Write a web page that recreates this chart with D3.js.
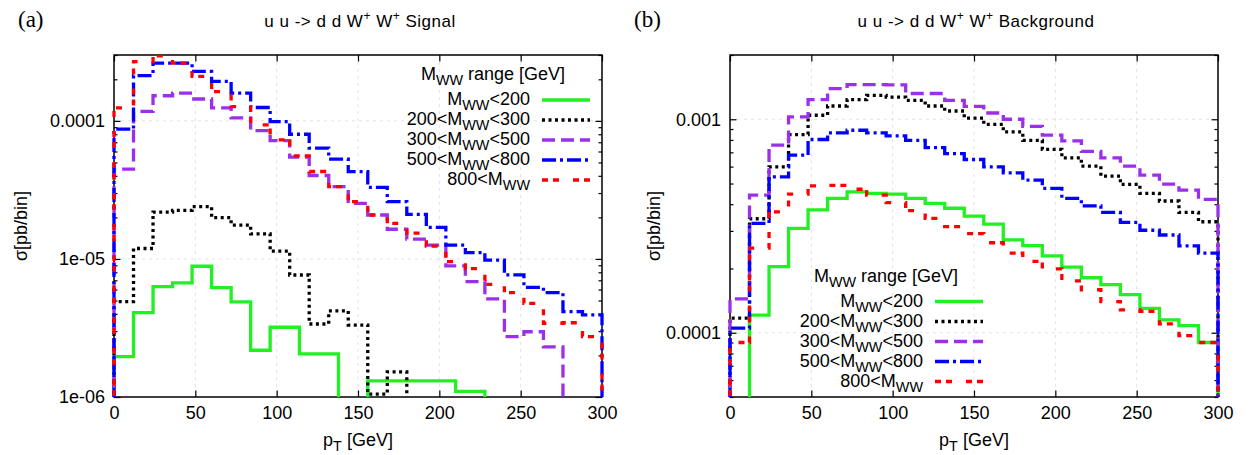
<!DOCTYPE html>
<html>
<head>
<meta charset="utf-8">
<script src="https://cdn.jsdelivr.net/npm/d3@7"></script>
<style>
  body { margin: 0; background: #fff; }
  svg { display: block; }
  text { font-family: "Liberation Sans", Arial, sans-serif; fill: #000; }
  text.tag { font-family: "Liberation Serif", "Times New Roman", serif; }
</style>
</head>
<body>
<svg id="fig" width="1250" height="455"></svg>
<script>
// Histogram bin centres (GeV), 12 GeV wide bins
const ptBins = [6, 18, 30, 42, 54, 66, 78, 90, 102, 114, 126, 138, 150, 162, 174, 186, 198, 210, 222, 234, 246, 258, 270, 282, 294];
const binWidth = 12;
const ptTicks = [0, 50, 100, 150, 200, 250, 300];

// Signal: sigma per bin [pb] for each M_WW window (null = empty bin)
const sigM200      = [1.96e-6, 4.08e-6, 6.3e-6, 6.7e-6, 8.85e-6, 6.2e-6, 4.88e-6, 2.18e-6, 3.2e-6, null, 2.05e-6, null, 6.5e-7, 1.31e-6, 1.31e-6, 1.31e-6, 1.31e-6, null, 1.1e-6, null, null, null, null, null, null];
const sigM200to300 = [4.9e-6, 1.19e-5, 2.18e-5, 2.25e-5, 2.39e-5, 1.99e-5, 1.76e-5, 1.52e-5, 1.14e-5, 7.65e-6, 3.38e-6, 4.2e-6, 3.32e-6, 1.05e-6, 1.52e-6, null, null, null, null, null, null, null, null, null, null];
const sigM300to500 = [4.47e-5, 1.17e-4, 1.52e-4, 1.59e-4, 1.44e-4, 1.24e-4, 1.05e-4, 8.5e-5, 7.2e-5, 5.46e-5, 4.02e-5, 3.34e-5, 2.53e-5, 2.08e-5, 1.64e-5, 1.39e-5, 1.26e-5, 8.9e-6, 6.85e-6, 5.13e-6, 2.74e-6, 2.97e-6, 2.31e-6, null, null];
const sigM500to800 = [8.7e-5, 2.13e-4, 2.62e-4, 2.62e-4, 2.28e-4, 1.93e-4, 1.59e-4, 1.25e-4, 9.89e-5, 8.0e-5, 6.34e-5, 5.28e-5, 4.29e-5, 3.3e-5, 2.6e-5, 2.1e-5, 1.69e-5, 1.26e-5, 1.11e-5, 9.8e-6, 7.66e-6, 6.23e-6, 5.7e-6, 4.15e-6, 3.93e-6];
const sigM800      = [1.24e-4, 2.69e-4, 2.96e-4, 2.62e-4, 2.1e-4, 1.63e-4, 1.27e-4, 9.35e-5, 7.28e-5, 5.58e-5, 4.3e-5, 3.34e-5, 2.6e-5, 2.08e-5, 1.81e-5, 1.54e-5, 1.24e-5, 9.56e-6, 8.5e-6, 6.55e-6, 5.7e-6, 4.77e-6, 3.42e-6, 3.45e-6, 2.74e-6];

// Background: sigma per bin [pb]
const bkgM200      = [null, 1.21e-4, 2.04e-4, 3.08e-4, 3.76e-4, 4.26e-4, 4.57e-4, 4.5e-4, 4.46e-4, 4.26e-4, 4.04e-4, 3.83e-4, 3.52e-4, 3.23e-4, 2.72e-4, 2.56e-4, 2.29e-4, 2.03e-4, 1.81e-4, 1.68e-4, 1.51e-4, 1.3e-4, 1.15e-4, 1.08e-4, 9.0e-5];
const bkgM200to300 = [1.17e-4, 3.42e-4, 5.99e-4, 8.48e-4, 1.044e-3, 1.154e-3, 1.236e-3, 1.295e-3, 1.271e-3, 1.227e-3, 1.154e-3, 1.093e-3, 1.013e-3, 9.47e-4, 8.72e-4, 7.97e-4, 7.22e-4, 6.6e-4, 6.03e-4, 5.42e-4, 4.95e-4, 4.5e-4, 4.14e-4, 3.66e-4, 3.31e-4];
const bkgM300to500 = [1.44e-4, 4.41e-4, 7.56e-4, 1.025e-3, 1.236e-3, 1.391e-3, 1.453e-3, 1.453e-3, 1.45e-3, 1.32e-3, 1.32e-3, 1.227e-3, 1.15e-3, 1.07e-3, 1.0e-3, 9.27e-4, 8.42e-4, 7.92e-4, 7.08e-4, 6.6e-4, 6.03e-4, 5.48e-4, 4.97e-4, 4.66e-4, 4.21e-4];
const bkgM500to800 = [1.05e-4, 3.25e-4, 5.37e-4, 6.79e-4, 8.04e-4, 8.63e-4, 8.88e-4, 8.63e-4, 8.36e-4, 7.97e-4, 7.37e-4, 6.91e-4, 6.48e-4, 5.99e-4, 5.61e-4, 5.19e-4, 4.75e-4, 4.26e-4, 3.93e-4, 3.66e-4, 3.29e-4, 3.02e-4, 2.87e-4, 2.55e-4, 2.36e-4];
const bkgM800      = [9.0e-5, 2.49e-4, 3.68e-4, 4.46e-4, 4.87e-4, 4.9e-4, 4.7e-4, 4.41e-4, 4.07e-4, 3.73e-4, 3.43e-4, 3.14e-4, 2.91e-4, 2.64e-4, 2.36e-4, 2.16e-4, 1.99e-4, 1.75e-4, 1.59e-4, 1.4e-4, 1.28e-4, 1.26e-4, 1.1e-4, 9.7e-5, 9.0e-5];

// Legend entries: [before subscript, subscript, after subscript]
const windowLabels = [
  ["M", "WW", "<200"],
  ["200<M", "WW", "<300"],
  ["300<M", "WW", "<500"],
  ["500<M", "WW", "<800"],
  ["800<M", "WW", ""]
];

// Axis ticks
const yTicksSignal = [1e-6, 1e-5, 1e-4];
const yTickLabelsSignal = ["1e-06", "1e-05", "0.0001"];
const yTicksBkg = [1e-4, 1e-3];
const yTickLabelsBkg = ["0.0001", "0.001"];

const lineStyles = [
  { color: "#22f022", dash: null },
  { color: "#000000", dash: "3,3.5" },
  { color: "#9b30e8", dash: "13,6" },
  { color: "#0000ff", dash: "14,4,3,4" },
  { color: "#ff0000", dash: "6,5,6,14" }
];

const svg = d3.select("#fig");
const FONT = 18;

// Step outline through bin centres, transitions halfway between filled bins
function histeps(values, x, y) {
  const pts = ptBins.map((c, i) => [c, values[i]]).filter(d => d[1] != null);
  const base = y.range()[0] + 30;
  const half = binWidth / 2;
  const p = d3.path();
  p.moveTo(x(pts[0][0] - half), base);
  p.lineTo(x(pts[0][0] - half), y(pts[0][1]));
  for (let i = 0; i < pts.length - 1; i++) {
    const m = (pts[i][0] + pts[i + 1][0]) / 2;
    p.lineTo(x(m), y(pts[i][1]));
    p.lineTo(x(m), y(pts[i + 1][1]));
  }
  const last = pts[pts.length - 1];
  p.lineTo(x(last[0] + half), y(last[1]));
  p.lineTo(x(last[0] + half), base);
  return p.toString();
}

function subText(sel, parts, size) {
  sel.append("tspan").text(parts[0]);
  sel.append("tspan").attr("dy", size * 0.3).attr("font-size", size * 0.8).text(parts[1]);
  if (parts[2]) sel.append("tspan").attr("dy", -size * 0.3).text(parts[2]);
}

function minorTicks(domain) {
  const out = [];
  const lo = Math.floor(Math.log10(domain[0])), hi = Math.ceil(Math.log10(domain[1]));
  for (let d = lo; d <= hi; d++) {
    for (let k = 2; k <= 9; k++) {
      const v = k * Math.pow(10, d);
      if (v >= domain[0] * 0.999 && v <= domain[1] * 1.001) out.push(v);
    }
  }
  return out;
}

function drawPanel(cfg) {
  const { id, left, right, top, bottom, yDomain, yTicks, yTickLabels, series, legend, tag, title, yLabelX } = cfg;
  const x = d3.scaleLinear().domain([0, 300]).range([left, right]);
  const y = d3.scaleLog().domain(yDomain).range([bottom, top]);
  const g = svg.append("g");

  // faint grid at major ticks
  const grid = g.append("g").attr("stroke", "#e2e2e2").attr("stroke-width", 1).attr("stroke-dasharray", "3,4");
  grid.selectAll("line.gx").data(ptTicks.slice(1, -1)).join("line")
    .attr("x1", d => x(d)).attr("x2", d => x(d)).attr("y1", top).attr("y2", bottom);
  grid.selectAll("line.gy").data(yTicks.filter(v => y(v) > top + 1 && y(v) < bottom - 1)).join("line")
    .attr("x1", left).attr("x2", right).attr("y1", d => y(d)).attr("y2", d => y(d));

  // axes: labelled bottom/left, mirrored ticks on top/right
  const major = 6.5, minor = 3.5;
  const fmt = d => yTickLabels[yTicks.indexOf(d)];
  const styleAxis = a => {
    a.select(".domain").remove();
    a.selectAll(".tick line").attr("stroke", "#000").attr("stroke-width", 1.2);
    a.selectAll("text").attr("font-size", FONT).attr("fill", "#000");
  };
  g.append("g").attr("transform", `translate(0,${bottom})`)
    .call(d3.axisBottom(x).tickValues(ptTicks).tickSize(-major).tickPadding(9)).call(styleAxis);
  g.append("g").attr("transform", `translate(0,${top})`)
    .call(d3.axisTop(x).tickValues(ptTicks).tickSize(-major).tickFormat("")).call(styleAxis);
  g.append("g").attr("transform", `translate(${left},0)`)
    .call(d3.axisLeft(y).tickValues(yTicks).tickSize(-major).tickPadding(9).tickFormat(fmt)).call(styleAxis);
  g.append("g").attr("transform", `translate(${right},0)`)
    .call(d3.axisRight(y).tickValues(yTicks).tickSize(-major).tickFormat("")).call(styleAxis);
  const mt = minorTicks(yDomain);
  g.append("g").attr("transform", `translate(${left},0)`)
    .call(d3.axisLeft(y).tickValues(mt).tickSize(-minor).tickFormat("")).call(styleAxis);
  g.append("g").attr("transform", `translate(${right},0)`)
    .call(d3.axisRight(y).tickValues(mt).tickSize(-minor).tickFormat("")).call(styleAxis);

  // frame
  g.append("rect").attr("x", left).attr("y", top).attr("width", right - left).attr("height", bottom - top)
    .attr("fill", "none").attr("stroke", "#000").attr("stroke-width", 1.5);

  // histograms
  g.append("clipPath").attr("id", "clip-" + id).append("rect")
    .attr("x", left - 3).attr("y", top).attr("width", right - left + 6).attr("height", bottom - top);
  const plot = g.append("g").attr("clip-path", `url(#clip-${id})`);
  series.forEach((vals, i) => {
    plot.append("path").attr("d", histeps(vals, x, y))
      .attr("fill", "none").attr("stroke", lineStyles[i].color).attr("stroke-width", 3.3)
      .attr("stroke-dasharray", lineStyles[i].dash).attr("stroke-linejoin", "miter");
  });

  // legend
  const lg = g.append("g");
  lg.append("text").attr("x", legend.titleX).attr("y", legend.y0 - 20).attr("text-anchor", "middle")
    .attr("font-size", FONT).call(s => subText(s, ["M", "WW", " range [GeV]"], FONT));
  windowLabels.forEach((lab, i) => {
    const yy = legend.y0 + i * legend.dy;
    lg.append("text").attr("x", legend.textRight).attr("y", yy + 5).attr("text-anchor", "end")
      .attr("font-size", FONT).call(s => subText(s, lab, FONT));
    lg.append("line").attr("x1", legend.textRight + 12).attr("x2", legend.textRight + 60)
      .attr("y1", yy).attr("y2", yy).attr("stroke", lineStyles[i].color).attr("stroke-width", 3.3)
      .attr("stroke-dasharray", lineStyles[i].dash);
  });

  // axis titles
  svg.append("text").attr("transform", `translate(${yLabelX},${(top + bottom) / 2}) rotate(-90)`)
    .attr("text-anchor", "middle").attr("font-size", FONT).text("σ[pb/bin]");
  svg.append("text").attr("x", (left + right) / 2).attr("y", 446).attr("text-anchor", "middle")
    .attr("font-size", FONT).call(s => subText(s, ["p", "T", " [GeV]"], FONT));

  // panel tag and title
  svg.append("text").attr("class", "tag").attr("x", left - 96).attr("y", 27).attr("font-size", 23).text(tag);
  const t = svg.append("text").attr("x", (left + right) / 2 + 2).attr("y", 27).attr("text-anchor", "middle")
    .attr("font-size", 17).attr("letter-spacing", 0.5);
  t.append("tspan").text("u u -> d d W");
  t.append("tspan").attr("dy", -7).attr("font-size", 12).text("+");
  t.append("tspan").attr("dy", 7).text(" W");
  t.append("tspan").attr("dy", -7).attr("font-size", 12).text("+");
  t.append("tspan").attr("dy", 7).text(" " + title);
}

drawPanel({
  id: "sig", left: 114, right: 602, top: 55, bottom: 397,
  yDomain: [1e-6, 3e-4], yTicks: yTicksSignal, yTickLabels: yTickLabelsSignal,
  series: [sigM200, sigM200to300, sigM300to500, sigM500to800, sigM800],
  legend: { textRight: 530, titleX: 493, y0: 100, dy: 20 },
  tag: "(a)", title: "Signal", yLabelX: 27
});

drawPanel({
  id: "bkg", left: 730, right: 1218, top: 55, bottom: 397,
  yDomain: [5e-5, 2e-3], yTicks: yTicksBkg, yTickLabels: yTickLabelsBkg,
  series: [bkgM200, bkgM200to300, bkgM300to500, bkgM500to800, bkgM800],
  legend: { textRight: 923, titleX: 886, y0: 301.5, dy: 20 },
  tag: "(b)", title: "Background", yLabelX: 660
});
</script>
</body>
</html>
